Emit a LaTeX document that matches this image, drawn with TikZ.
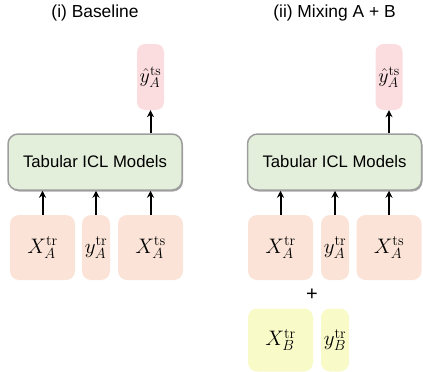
\RequirePackage{fix-cm}
\documentclass[tikz,border=0pt]{standalone}
\usepackage[no-math]{fontspec}
\setmainfont{Liberation Sans}
\usetikzlibrary{shadows,arrows.meta}
\definecolor{pinkfill}{HTML}{FBDDE0}
\definecolor{peachfill}{HTML}{FBE4D7}
\definecolor{yellowfill}{HTML}{F8FBC8}
\definecolor{greenfill}{HTML}{E3EFDA}
\definecolor{bordergray}{HTML}{9E9E9E}
\newcommand{\mtxt}[1]{\mathrm{#1}}
\tikzset{
  box/.style={rounded corners=9pt, inner sep=0pt, font=\fontsize{21}{21}\selectfont},
  outbox/.style={box, fill=pinkfill, minimum width=27pt, minimum height=66pt, rounded corners=8pt, font=\fontsize{20}{20}\selectfont},
  inbox/.style={box, fill=peachfill, minimum height=65pt},
  bbox/.style={box, fill=yellowfill, minimum height=63pt},
  wide/.style={minimum width=65pt},
  narrow/.style={minimum width=28pt},
  model/.style={box, fill=greenfill, draw=bordergray, line width=1.5pt, rounded corners=10pt,
    minimum width=174pt, minimum height=56pt, font=\fontsize{16.7}{16.7}\selectfont,
    drop shadow={shadow xshift=1pt, shadow yshift=-1.5pt, opacity=0.35, fill=black}},
  title/.style={font=\fontsize{17.4}{17.4}\selectfont},
  plussign/.style={font=\fontsize{20}{20}\selectfont},
  arr/.style={-{Stealth[length=7pt,width=7pt]}, line width=2pt}
}
\begin{document}
\begin{tikzpicture}[x=1pt,y=-1pt]
\useasboundingbox (0,0) rectangle (423,372);
% left panel
\node[title] (t1) at (95,13) {(i) Baseline};
\node[outbox] (yh1) at (150.5,77) {$\hat{y}_A^{\mtxt{ts}}$};
\node[model] (m1) at (95,162) {Tabular ICL Models};
\node[inbox,wide] (xa1) at (42.5,247.5) {$X_A^{\mtxt{tr}}$};
\node[inbox,narrow] (ya1) at (96,247.5) {$y_A^{\mtxt{tr}}$};
\node[inbox,wide] (xt1) at (150.5,247.5) {$X_A^{\mtxt{ts}}$};
\draw[arr] (xa1.north) -- (xa1.north |- m1.south);
\draw[arr] (ya1.north) -- (ya1.north |- m1.south);
\draw[arr] (xt1.north) -- (xt1.north |- m1.south);
\draw[arr] (yh1.south |- m1.north) -- (yh1.south);
% right panel
\node[title] (t2) at (334.5,13) {(ii) Mixing A + B};
\node[outbox] (yh2) at (389,77) {$\hat{y}_A^{\mtxt{ts}}$};
\node[model] (m2) at (334.5,162) {Tabular ICL Models};
\node[inbox,wide] (xa2) at (280.5,247.5) {$X_A^{\mtxt{tr}}$};
\node[inbox,narrow] (ya2) at (335,247.5) {$y_A^{\mtxt{tr}}$};
\node[inbox,wide] (xt2) at (389,247.5) {$X_A^{\mtxt{ts}}$};
\draw[arr] (xa2.north) -- (xa2.north |- m2.south);
\draw[arr] (ya2.north) -- (ya2.north |- m2.south);
\draw[arr] (xt2.north) -- (xt2.north |- m2.south);
\draw[arr] (yh2.south |- m2.north) -- (yh2.south);
\node[plussign] (plus) at (312,295) {+};
\node[bbox,wide] (xb2) at (280.5,340) {$X_B^{\mtxt{tr}}$};
\node[bbox,narrow] (yb2) at (335,340) {$y_B^{\mtxt{tr}}$};
\end{tikzpicture}
\end{document}
